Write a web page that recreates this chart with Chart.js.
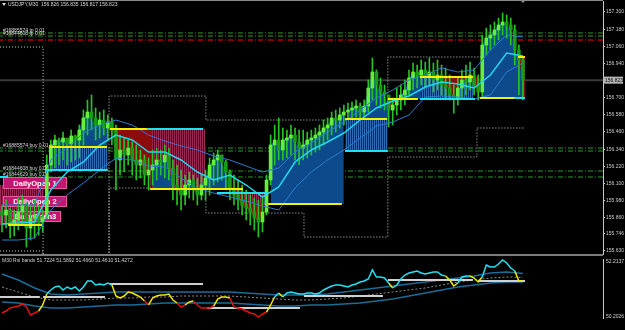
<!DOCTYPE html>
<html>
<head>
<meta charset="utf-8">
<script src="https://cdn.jsdelivr.net/npm/chart.js@4.4.1/dist/chart.umd.min.js"></script>
<style>
  html, body { margin: 0; padding: 0; background: #000; }
  canvas { display: block; }
</style>
</head>
<body>
<canvas id="priceChart" width="625" height="256"></canvas>
<canvas id="rsiChart" width="625" height="74"></canvas>
<script>
// USDJPY M30; one candle per hour, hour 0 = 24 Dec 09:30
const timeLabels = ["24 Dec 2025", "24 Dec 17:30", "26 Dec 13:00", "26 Dec 21:00", "29 Dec 05:00",
  "29 Dec 13:00", "29 Dec 21:00", "30 Dec 05:00", "30 Dec 13:00", "30 Dec 21:00", "31 Dec 05:00",
  "31 Dec 13:00", "2 Jan 02:30", "2 Jan 10:30", "2 Jan 18:30", "5 Jan 02:30", "5 Jan 10:30"];
const hoursPerLabel = 8;

const firstOpen = 155.900;
const highs = [
  155.949, 155.984, 155.928, 155.914, 155.998, 156.019, 155.963, 155.949, 155.984, 155.949,
  155.914, 156.299, 156.404, 156.439, 156.418, 156.460, 156.404, 156.474, 156.439, 156.509,
  156.614, 156.684, 156.719, 156.628, 156.600, 156.614, 156.579, 156.558, 156.509, 156.439,
  156.418, 156.404, 156.390, 156.369, 156.334, 156.299, 156.278, 156.334, 156.348, 156.334,
  156.369, 156.348, 156.264, 156.229, 156.194, 156.159, 156.180, 156.159, 156.138, 156.159,
  156.194, 156.278, 156.313, 156.334, 156.299, 156.264, 156.194, 156.159, 156.124, 156.089,
  156.054, 156.019, 155.998, 155.984, 155.998, 156.159, 156.439, 156.509, 156.558, 156.488,
  156.474, 156.509, 156.488, 156.474, 156.474, 156.460, 156.474, 156.488, 156.509, 156.544,
  156.558, 156.600, 156.614, 156.628, 156.649, 156.663, 156.670, 156.684, 156.663, 156.684,
  156.824, 156.978, 156.894, 156.838, 156.789, 156.719, 156.698, 156.768, 156.789, 156.824,
  156.894, 156.943, 156.929, 156.964, 156.950, 156.978, 156.943, 156.964, 156.929, 156.908,
  156.859, 156.789, 156.838, 156.894, 156.929, 156.950, 156.908, 156.859, 157.139, 157.188,
  157.209, 157.230, 157.258, 157.293, 157.279, 157.258, 157.209, 157.069, 156.985];
const lows = [
  155.760, 155.788, 155.718, 155.732, 155.774, 155.809, 155.655, 155.704, 155.718, 155.739,
  155.760, 155.858, 156.180, 156.208, 156.229, 156.264, 156.229, 156.250, 156.264, 156.278,
  156.369, 156.439, 156.474, 156.404, 156.418, 156.439, 156.404, 156.369, 156.054, 156.159,
  156.180, 156.229, 156.159, 156.124, 156.138, 156.089, 156.054, 156.089, 156.124, 156.159,
  156.138, 156.124, 155.984, 155.949, 155.914, 155.949, 155.998, 155.984, 155.949, 155.984,
  155.984, 156.019, 156.089, 156.110, 156.124, 156.054, 155.984, 155.949, 155.914, 155.879,
  155.844, 155.809, 155.774, 155.725, 155.760, 155.879, 156.089, 156.229, 156.264, 156.264,
  156.278, 156.299, 156.264, 156.229, 156.264, 156.278, 156.299, 156.320, 156.334, 156.369,
  156.404, 156.439, 156.460, 156.488, 156.509, 156.544, 156.558, 156.565, 156.544, 156.558,
  156.600, 156.684, 156.649, 156.628, 156.614, 156.495, 156.509, 156.579, 156.614, 156.649,
  156.719, 156.754, 156.768, 156.789, 156.768, 156.789, 156.740, 156.754, 156.719, 156.698,
  156.684, 156.593, 156.649, 156.698, 156.719, 156.754, 156.719, 156.684, 156.698, 156.999,
  157.034, 157.069, 157.104, 157.139, 157.118, 157.069, 156.929, 156.719, 156.684];
const closes = [
  155.879, 155.914, 155.809, 155.844, 155.900, 155.949, 155.788, 155.858, 155.879, 155.830,
  155.858, 156.229, 156.369, 156.404, 156.390, 156.418, 156.376, 156.432, 156.404, 156.474,
  156.558, 156.600, 156.558, 156.509, 156.544, 156.488, 156.530, 156.474, 156.264, 156.334,
  156.299, 156.348, 156.264, 156.229, 156.264, 156.159, 156.194, 156.229, 156.264, 156.250,
  156.299, 156.208, 156.089, 156.054, 156.019, 156.089, 156.124, 156.054, 156.019, 156.089,
  156.138, 156.229, 156.264, 156.299, 156.250, 156.180, 156.068, 156.019, 155.984, 155.949,
  155.928, 155.900, 155.858, 155.830, 155.900, 156.124, 156.369, 156.404, 156.334, 156.404,
  156.418, 156.439, 156.390, 156.348, 156.369, 156.404, 156.418, 156.439, 156.460, 156.488,
  156.509, 156.558, 156.544, 156.579, 156.600, 156.614, 156.628, 156.642, 156.600, 156.642,
  156.768, 156.880, 156.789, 156.740, 156.719, 156.614, 156.649, 156.684, 156.719, 156.754,
  156.838, 156.880, 156.859, 156.894, 156.852, 156.880, 156.824, 156.859, 156.789, 156.768,
  156.719, 156.698, 156.768, 156.824, 156.810, 156.859, 156.789, 156.740, 157.069, 157.118,
  157.139, 157.174, 157.209, 157.230, 157.209, 157.174, 157.034, 156.964, 156.823];

// moving average and its envelope, sampled every 4 hours
const maStep = 4;
const maMid = [155.816, 155.823, 155.830, 156.054, 156.180, 156.250, 156.369, 156.439, 156.404, 156.320,
  156.320, 156.264, 156.180, 156.124, 156.159, 156.089, 156.005, 156.075, 156.250, 156.334, 156.390,
  156.453, 156.544, 156.628, 156.677, 156.712, 156.775, 156.810, 156.796, 156.768, 156.859, 157.013, 156.992];
const maUpper = [155.949, 155.949, 155.949, 156.264, 156.348, 156.453, 156.509, 156.544, 156.509, 156.439,
  156.397, 156.362, 156.334, 156.292, 156.264, 156.222, 156.180, 156.208, 156.320, 156.383, 156.460,
  156.530, 156.614, 156.698, 156.754, 156.824, 156.859, 156.908, 156.880, 156.894, 157.034, 157.139, 157.125];
const maLower = [155.704, 155.704, 155.718, 155.914, 156.019, 156.103, 156.194, 156.278, 156.264, 156.222,
  156.215, 156.138, 156.068, 156.033, 156.005, 155.977, 155.942, 155.914, 156.068, 156.180, 156.264,
  156.334, 156.418, 156.502, 156.530, 156.579, 156.705, 156.712, 156.705, 156.691, 156.719, 156.880, 156.943];

// box indicator: close vs. base level, per segment (hour ranges)
const fillStart = [4, 12, 27, 37, 59, 66, 85, 95, 103, 118];
const fillEnd = [10, 26, 37, 59, 65, 84, 95, 103, 117, 128];
const fillBase = [155.809, 156.355, 156.481, 156.061, 155.963, 155.956, 156.551, 156.691, 156.845, 156.698];

const pinkBoxStart = [-0.5, 36.4, 59.2];
const pinkBoxEnd = [10.3, 49.9, 65.4];
const pinkBoxTop = [156.089, 156.481, 156.033];
const pinkBoxBottom = [155.809, 156.061, 155.949];
const blueBoxStart = [11.8, 84.3, 102.7];
const blueBoxEnd = [26, 94.8, 115.7];
const blueBoxTop = [156.355, 156.551, 156.845];
const blueBoxBottom = [156.194, 156.327, 156.691];
const redBox = [127, 128.5, 156.985, 156.705];

const yellowStart = [1.5, 11.8, 26.5, 36.4, 65.4, 84.3, 94.8, 102.7, 117.4, 126.8];
const yellowEnd = [9.8, 25.8, 35.6, 59.2, 83.5, 94.6, 102.2, 115.7, 126, 128.5];
const yellowLevel = [155.809, 156.355, 156.481, 156.061, 155.956, 156.551, 156.691, 156.845, 156.698, 156.985];
const cyanStart = [-0.5, 10.6, 35.6, 52.8, 84.3, 102.7, 126];
const cyanEnd = [1.5, 26, 49.4, 65.4, 94.8, 116.2, 128.5];
const cyanLevel = [156.145, 156.194, 156.481, 156.033, 156.327, 156.691, 156.698];

// previous day high / low, per session
const sessionStart = [-0.5, 10.1, 26.3, 50.1, 74.2, 94.8, 116.7];
const sessionEnd = 128.5;
const prevHigh = [157.055, 155.52, 156.712, 156.544, 156.544, 156.985, 156.985];
const prevLow = [155.627, 155.52, 156.068, 155.893, 155.725, 156.285, 156.488];

const buyLevels = [157.153, 157.132, 156.348, 156.327, 156.187, 156.145];
const stopLevels = [157.104];
const orderNotes = ["#16885574 tp 0.01", "#16844608 tp 0.01", "#16885574 buy 0.01", "", "#16844608 buy 0.01", "#16844629 buy 0.01"];
const bid = 156.823;
const quote = ["156.826", "156.835", "156.817", "156.823"];
const priceTicks = [157.300, 157.180, 157.060, 156.940, 156.700, 156.580, 156.460, 156.340,
  156.220, 156.100, 155.980, 155.860, 155.746, 155.630];

// RSI bands panel
const rsi = [
  50.373, 50.441, 50.543, 50.577, 50.611, 50.680, 50.577, 50.305, 50.373, 50.441,
  50.646, 51.021, 51.157, 51.259, 51.293, 51.157, 51.259, 51.191, 51.259, 51.123,
  51.259, 51.464, 51.464, 51.327, 51.361, 51.327, 51.396, 51.327, 50.952, 50.884,
  50.952, 51.089, 51.055, 50.986, 50.918, 50.782, 50.646, 50.884, 50.952, 50.986,
  50.986, 51.021, 50.816, 50.714, 50.577, 50.646, 50.748, 50.782, 50.646, 50.543,
  50.543, 50.543, 50.611, 50.850, 50.918, 50.918, 50.884, 50.577, 50.543, 50.509,
  50.441, 50.373, 50.339, 50.236, 50.339, 50.407, 50.646, 50.918, 51.055, 50.918,
  51.055, 51.089, 51.055, 51.021, 51.021, 51.055, 51.055, 51.021, 51.055, 51.157,
  51.225, 51.293, 51.327, 51.327, 51.293, 51.259, 51.327, 51.361, 51.430, 51.464,
  51.532, 51.839, 51.600, 51.600, 51.566, 51.396, 51.225, 51.327, 51.532, 51.668,
  51.736, 51.771, 51.805, 51.736, 51.702, 51.736, 51.771, 51.771, 51.668, 51.634,
  51.498, 51.293, 51.396, 51.600, 51.634, 51.634, 51.566, 51.430, 51.600, 52.009,
  51.941, 51.941, 52.043, 52.180, 52.077, 51.907, 51.805, 51.464, 51.466];
const rsiUpper = [51.702, 51.498, 51.225, 51.021, 50.986, 51.021, 51.055, 51.089, 51.089, 51.089,
  51.089, 51.089, 51.089, 51.089, 51.089, 51.055, 51.021, 50.986, 50.986, 50.986, 51.021,
  51.089, 51.157, 51.225, 51.293, 51.361, 51.430, 51.498, 51.566, 51.634, 51.736, 51.771, 51.722];
const rsiLower = [50.748, 50.714, 50.611, 50.543, 50.543, 50.577, 50.611, 50.646, 50.646, 50.680,
  50.714, 50.714, 50.714, 50.714, 50.714, 50.680, 50.646, 50.611, 50.611, 50.646, 50.646,
  50.680, 50.714, 50.782, 50.850, 50.952, 51.055, 51.157, 51.259, 51.327, 51.396, 51.430, 51.427];
const rsiMid = [51.259, 51.089, 50.918, 50.816, 50.816, 50.816, 50.850, 50.884, 50.884, 50.918,
  50.918, 50.952, 50.952, 50.952, 50.952, 50.918, 50.884, 50.850, 50.816, 50.816, 50.850,
  50.884, 50.952, 51.021, 51.089, 51.157, 51.225, 51.327, 51.430, 51.498, 51.566, 51.600, 51.589];
const levelStart = [-0.5, 10.1, 26.5, 50.4, 74.2, 94.8, 117];
const levelEnd = [9.3, 25.3, 49.4, 73.2, 93.6, 115.7, 128.5];
const levelValue = [50.918, 50.918, 51.361, 50.543, 50.952, 51.498, 51.461];
const rsiReadout = ["51.7224", "51.5892", "51.4660", "51.4610", "51.4272"];
const rsiMax = 52.2137;
const rsiMin = 50.2026;

// ---------------------------------------------------------------
const FONT = '"Liberation Sans", "DejaVu Sans", sans-serif';
const X_MIN = -0.49, X_MAX = 147.67;
const CLEAR = 'rgba(0,0,0,0)';
const AXIS = '#c8c8c8';

function stripes(ink, base) {
  const c = document.createElement('canvas');
  c.width = 2; c.height = 1;
  const g = c.getContext('2d');
  g.fillStyle = base; g.fillRect(0, 0, 2, 1);
  g.fillStyle = ink; g.fillRect(0, 0, 1, 1);
  return g.createPattern(c, 'repeat');
}
const pinkHatch = stripes('#9c2858', '#3c0a1e');
const blueHatch = stripes('#2d6ab2', '#0a2a58');

const flat = (from, to, v) => [{ x: from, y: v }, { x: to, y: v }];
function pieces(starts, ends, vals) {
  return starts.flatMap((s, k) => [{ x: s, y: vals[k] }, { x: ends[k], y: vals[k] }, { x: ends[k], y: null }]);
}
function steps(levels) {
  return sessionStart.flatMap((s, k) => {
    const end = k + 1 < sessionStart.length ? sessionStart[k + 1] : sessionEnd;
    return [{ x: s, y: levels[k] }, { x: end, y: levels[k] }];
  });
}
const sampled = arr => arr.map((v, k) => ({ x: k * maStep, y: v }));
function sampleAt(arr, h) {
  const k = h / maStep, a = Math.floor(k), b = Math.min(a + 1, arr.length - 1);
  return arr[a] + (arr[b] - arr[a]) * (k - a);
}

const hours = closes.map((_, i) => i);
const opens = [firstOpen].concat(closes.slice(0, -1));

const priceSets = [];
priceSets.push({ data: flat(-1, 149, bid), borderColor: '#3a3a3a', borderWidth: 2, order: 30 });
buyLevels.forEach(v => priceSets.push({ data: flat(-1, 149, v), borderColor: '#2f9a2f', borderWidth: 1, borderDash: [5, 2, 1, 2], order: 29 }));
stopLevels.forEach(v => priceSets.push({ data: flat(-1, 149, v), borderColor: '#b80000', borderWidth: 1.5, borderDash: [5, 2, 1, 2], order: 29 }));
priceSets.push({ data: steps(prevHigh), borderColor: '#cfcfcf', borderWidth: 1, borderDash: [1, 2], order: 28 });
priceSets.push({ data: steps(prevLow), borderColor: '#cfcfcf', borderWidth: 1, borderDash: [1, 2], order: 28 });
pinkBoxStart.forEach((s, k) => priceSets.push({
  data: flat(s, pinkBoxEnd[k], pinkBoxTop[k]), borderColor: CLEAR, backgroundColor: pinkHatch,
  fill: { target: { value: pinkBoxBottom[k] } }, order: 25 }));
blueBoxStart.forEach((s, k) => priceSets.push({
  data: flat(s, blueBoxEnd[k], blueBoxTop[k]), borderColor: CLEAR, backgroundColor: blueHatch,
  fill: { target: { value: blueBoxBottom[k] } }, order: 25 }));
priceSets.push({ data: flat(redBox[0], redBox[1], redBox[2]), borderColor: CLEAR, backgroundColor: '#8c0b0b',
  fill: { target: { value: redBox[3] } }, order: 24 });
fillStart.forEach((s, k) => {
  const data = [];
  for (let i = s; i <= fillEnd[k]; i++) data.push({ x: i, y: closes[i] });
  priceSets.push({ data, borderColor: CLEAR, fill: { target: { value: fillBase[k] }, above: '#0c4a8c', below: '#8c0b0b' }, order: 23 });
});
priceSets.push({ role: 'wicks', type: 'bar', data: hours.map(i => ({ x: i, y: [lows[i], highs[i]] })),
  backgroundColor: '#25c425', barThickness: 1, grouped: false, order: 20 });
priceSets.push({ type: 'bar', data: hours.map(i => ({ x: i, y: [opens[i], closes[i]] })),
  backgroundColor: c => (closes[c.dataIndex] >= opens[c.dataIndex] ? '#62f03c' : '#169c16'),
  barThickness: 3, minBarLength: 1, grouped: false, order: 19 });
priceSets.push({ data: sampled(maUpper), borderColor: '#2a7dcc', borderWidth: 1, order: 15 });
priceSets.push({ data: sampled(maLower), borderColor: '#2a7dcc', borderWidth: 1, order: 15 });
priceSets.push({ data: sampled(maMid), borderColor: '#1fd8ec', borderWidth: 1.5, order: 14 });
priceSets.push({ data: pieces(yellowStart, yellowEnd, yellowLevel), borderColor: '#f4f000', borderWidth: 2, order: 10 });
priceSets.push({ data: pieces(cyanStart, cyanEnd, cyanLevel), borderColor: '#1ee2f2', borderWidth: 2, order: 9 });

const priceDecor = {
  id: 'priceDecor',
  beforeDatasetDraw(chart, args) {
    if (chart.data.datasets[args.index].role !== 'wicks') return;
    const ctx = chart.ctx, y = chart.scales.y;
    ctx.save();
    ctx.font = '5px ' + FONT;
    ctx.fillStyle = '#d8d8d8';
    ctx.textBaseline = 'middle';
    buyLevels.forEach((v, k) => { if (orderNotes[k]) ctx.fillText(orderNotes[k], 3, y.getPixelForValue(v) - 2.5); });
    const boxes = [[3, 177, 64, 12, 'DailyOpen 1'], [3, 196, 64, 11, 'DailyOpen 2'], [10, 211, 51, 11, 'DailyOpen3']];
    ctx.font = 'bold 7.5px ' + FONT;
    ctx.textAlign = 'center';
    boxes.forEach(([bx, by, bw, bh, text]) => {
      ctx.fillStyle = '#c4166f';
      ctx.fillRect(bx, by, bw, bh);
      ctx.strokeStyle = '#e45aa4';
      ctx.lineWidth = 1;
      ctx.strokeRect(bx + 0.5, by + 0.5, bw - 1, bh - 1);
      ctx.fillStyle = '#ffffff';
      ctx.fillText(text, bx + bw / 2, by + bh / 2 + 0.5);
    });
    ctx.restore();
  },
  afterDraw(chart) {
    const ctx = chart.ctx, area = chart.chartArea, y = chart.scales.y;
    ctx.save();
    ctx.fillStyle = '#8a8a8a';
    ctx.fillRect(0, 0, area.right, 1);
    ctx.fillStyle = '#7c7c7c';
    ctx.fillRect(0, 254, area.right, 2);
    ctx.fillStyle = '#d8d8d8';
    ctx.beginPath();
    ctx.moveTo(2, 3); ctx.lineTo(6, 3); ctx.lineTo(4, 6); ctx.closePath(); ctx.fill();
    ctx.font = '5px ' + FONT;
    ctx.textBaseline = 'middle';
    ctx.fillText('USDJPY,M30  ' + quote.join(' '), 8, 4.5);
    ctx.fillStyle = '#8a8a8a';
    ctx.beginPath();
    ctx.moveTo(520, 0); ctx.lineTo(526, 0); ctx.lineTo(523, 3); ctx.closePath(); ctx.fill();
    const by = y.getPixelForValue(bid);
    ctx.fillStyle = '#b8b8b8';
    ctx.fillRect(area.right, by - 3.5, 20, 7);
    ctx.fillStyle = '#000000';
    ctx.fillText(bid.toFixed(3), area.right + 2, by);
    ctx.restore();
  }
};

new Chart(document.getElementById('priceChart'), {
  type: 'line',
  data: { datasets: priceSets },
  options: {
    responsive: false, animation: false, events: [],
    layout: { padding: { top: 1, bottom: 2, left: 0, right: 0 } },
    plugins: { legend: { display: false }, tooltip: { enabled: false } },
    elements: { point: { radius: 0 }, line: { tension: 0 } },
    scales: {
      x: { type: 'linear', min: X_MIN, max: X_MAX, offset: false, display: false },
      y: {
        position: 'right', min: 155.606, max: 157.377,
        afterBuildTicks: s => { s.ticks = priceTicks.map(v => ({ value: v })); },
        afterFit: s => { s.width = 22; s.paddingTop = 0; s.paddingBottom = 0; },
        ticks: { color: AXIS, font: { family: FONT, size: 5 }, padding: 1, callback: v => v.toFixed(3) },
        grid: { drawOnChartArea: false, tickLength: 2, color: AXIS },
        border: { color: AXIS }
      }
    }
  },
  plugins: [priceDecor]
});

function rsiColor(i) {
  const v = rsi[i];
  if (v > sampleAt(rsiUpper, i)) return '#22e2f2';
  if (v < sampleAt(rsiLower, i)) return '#e41212';
  return '#f2e600';
}

const rsiDecor = {
  id: 'rsiDecor',
  afterDraw(chart) {
    const ctx = chart.ctx, area = chart.chartArea;
    ctx.save();
    ctx.font = '5px ' + FONT;
    ctx.fillStyle = '#d0d0d0';
    ctx.textBaseline = 'middle';
    ctx.fillText('M30 Rsi bands ' + rsiReadout.join(' '), 2, area.top + 1.5);
    ctx.fillText(rsiMax.toFixed(4), area.right + 3, area.top + 2.5);
    ctx.fillText(rsiMin.toFixed(4), area.right + 3, area.bottom - 1.5);
    ctx.restore();
  }
};

new Chart(document.getElementById('rsiChart'), {
  type: 'line',
  data: {
    datasets: [
      { data: sampled(rsiUpper), borderColor: '#1b6d96', borderWidth: 1.5, order: 5 },
      { data: sampled(rsiLower), borderColor: '#1b6d96', borderWidth: 1.5, order: 5 },
      { data: sampled(rsiMid), borderColor: '#8a8a8a', borderWidth: 1, borderDash: [2, 2], order: 6 },
      { data: pieces(levelStart, levelEnd, levelValue), borderColor: '#d0d0d0', borderWidth: 2, order: 4 },
      { data: rsi.map((v, i) => ({ x: i, y: v })), borderWidth: 1.5, borderColor: '#f2e600',
        segment: { borderColor: c => rsiColor(c.p1DataIndex) }, order: 1 }
    ]
  },
  options: {
    responsive: false, animation: false, events: [],
    layout: { padding: { top: 3, bottom: 0, left: 0, right: 0 } },
    plugins: { legend: { display: false }, tooltip: { enabled: false } },
    elements: { point: { radius: 0 }, line: { tension: 0 } },
    scales: {
      x: {
        type: 'linear', min: X_MIN, max: X_MAX, offset: false,
        afterBuildTicks: s => { s.ticks = timeLabels.map((_, k) => ({ value: k * hoursPerLabel })); },
        afterFit: s => { s.height = 12; s.paddingLeft = 0; s.paddingRight = 0; },
        ticks: {
          color: AXIS, font: { family: FONT, size: 5 }, padding: 4, align: 'start', labelOffset: -2,
          maxRotation: 0, autoSkip: false,
          callback: v => timeLabels[Math.round(v / hoursPerLabel)]
        },
        grid: { display: false },
        border: { display: false }
      },
      y: {
        position: 'right', min: rsiMin, max: rsiMax,
        afterFit: s => { s.width = 22; s.paddingTop = 0; s.paddingBottom = 0; },
        ticks: { display: false },
        grid: { drawOnChartArea: false, drawTicks: false },
        border: { color: AXIS }
      }
    }
  },
  plugins: [rsiDecor]
});
</script>
</body>
</html>
